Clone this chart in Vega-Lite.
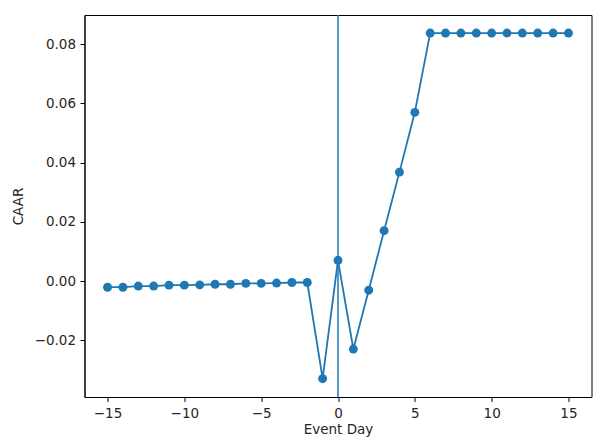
{
  "$schema": "https://vega.github.io/schema/vega-lite/v6.json",
  "autosize": {"type": "none"},
  "width": 507,
  "height": 382,
  "padding": {"left": 84.5, "top": 15, "right": 1.5, "bottom": 43},
  "background": "white",
  "config": {
    "font": "DejaVu Sans",
    "view": {"stroke": "#000", "strokeWidth": 1},
    "axis": {
      "labelFont": "DejaVu Sans", "titleFont": "DejaVu Sans",
      "labelFontSize": 13.5, "titleFontSize": 13.5,
      "labelColor": "#262626", "titleColor": "#262626",
      "titleFontWeight": "normal",
      "domainColor": "#000", "tickColor": "#000",
      "tickSize": 4.5, "labelPadding": 4.5, "grid": false
    }
  },
  "data": {"values": [
    {"day": -15, "caar": -0.0021},
    {"day": -14, "caar": -0.0021},
    {"day": -13, "caar": -0.0017},
    {"day": -12, "caar": -0.0017},
    {"day": -11, "caar": -0.0014},
    {"day": -10, "caar": -0.0014},
    {"day": -9, "caar": -0.0013},
    {"day": -8, "caar": -0.0011},
    {"day": -7, "caar": -0.0011},
    {"day": -6, "caar": -0.0008},
    {"day": -5, "caar": -0.0008},
    {"day": -4, "caar": -0.0007},
    {"day": -3, "caar": -0.0005},
    {"day": -2, "caar": -0.0005},
    {"day": -1, "caar": -0.0330},
    {"day": 0, "caar": 0.0070},
    {"day": 1, "caar": -0.0230},
    {"day": 2, "caar": -0.0031},
    {"day": 3, "caar": 0.0170},
    {"day": 4, "caar": 0.0368},
    {"day": 5, "caar": 0.0570},
    {"day": 6, "caar": 0.0838},
    {"day": 7, "caar": 0.0838},
    {"day": 8, "caar": 0.0838},
    {"day": 9, "caar": 0.0838},
    {"day": 10, "caar": 0.0838},
    {"day": 11, "caar": 0.0838},
    {"day": 12, "caar": 0.0838},
    {"day": 13, "caar": 0.0838},
    {"day": 14, "caar": 0.0838},
    {"day": 15, "caar": 0.0838}
  ]},
  "layer": [
    {
      "mark": {"type": "line", "color": "#1f77b4", "strokeWidth": 1.8, "point": {"filled": true, "size": 80, "color": "#1f77b4", "opacity": 1}},
      "encoding": {
        "x": {"field": "day", "type": "quantitative",
              "scale": {"domain": [-16.5, 16.5], "nice": false, "zero": false},
              "axis": {"title": "Event Day", "values": [-15, -10, -5, 0, 5, 10, 15], "format": "d", "titlePadding": 3}},
        "y": {"field": "caar", "type": "quantitative",
              "scale": {"domain": [-0.0392, 0.0899], "nice": false, "zero": false},
              "axis": {"title": "CAAR", "values": [-0.02, 0, 0.02, 0.04, 0.06, 0.08], "format": ".2f", "titlePadding": 9}}
      }
    },
    {
      "data": {"values": [{"day": 0}]},
      "mark": {"type": "rule", "color": "#1f77b4", "strokeWidth": 1.5},
      "encoding": {"x": {"field": "day", "type": "quantitative"}}
    }
  ]
}
